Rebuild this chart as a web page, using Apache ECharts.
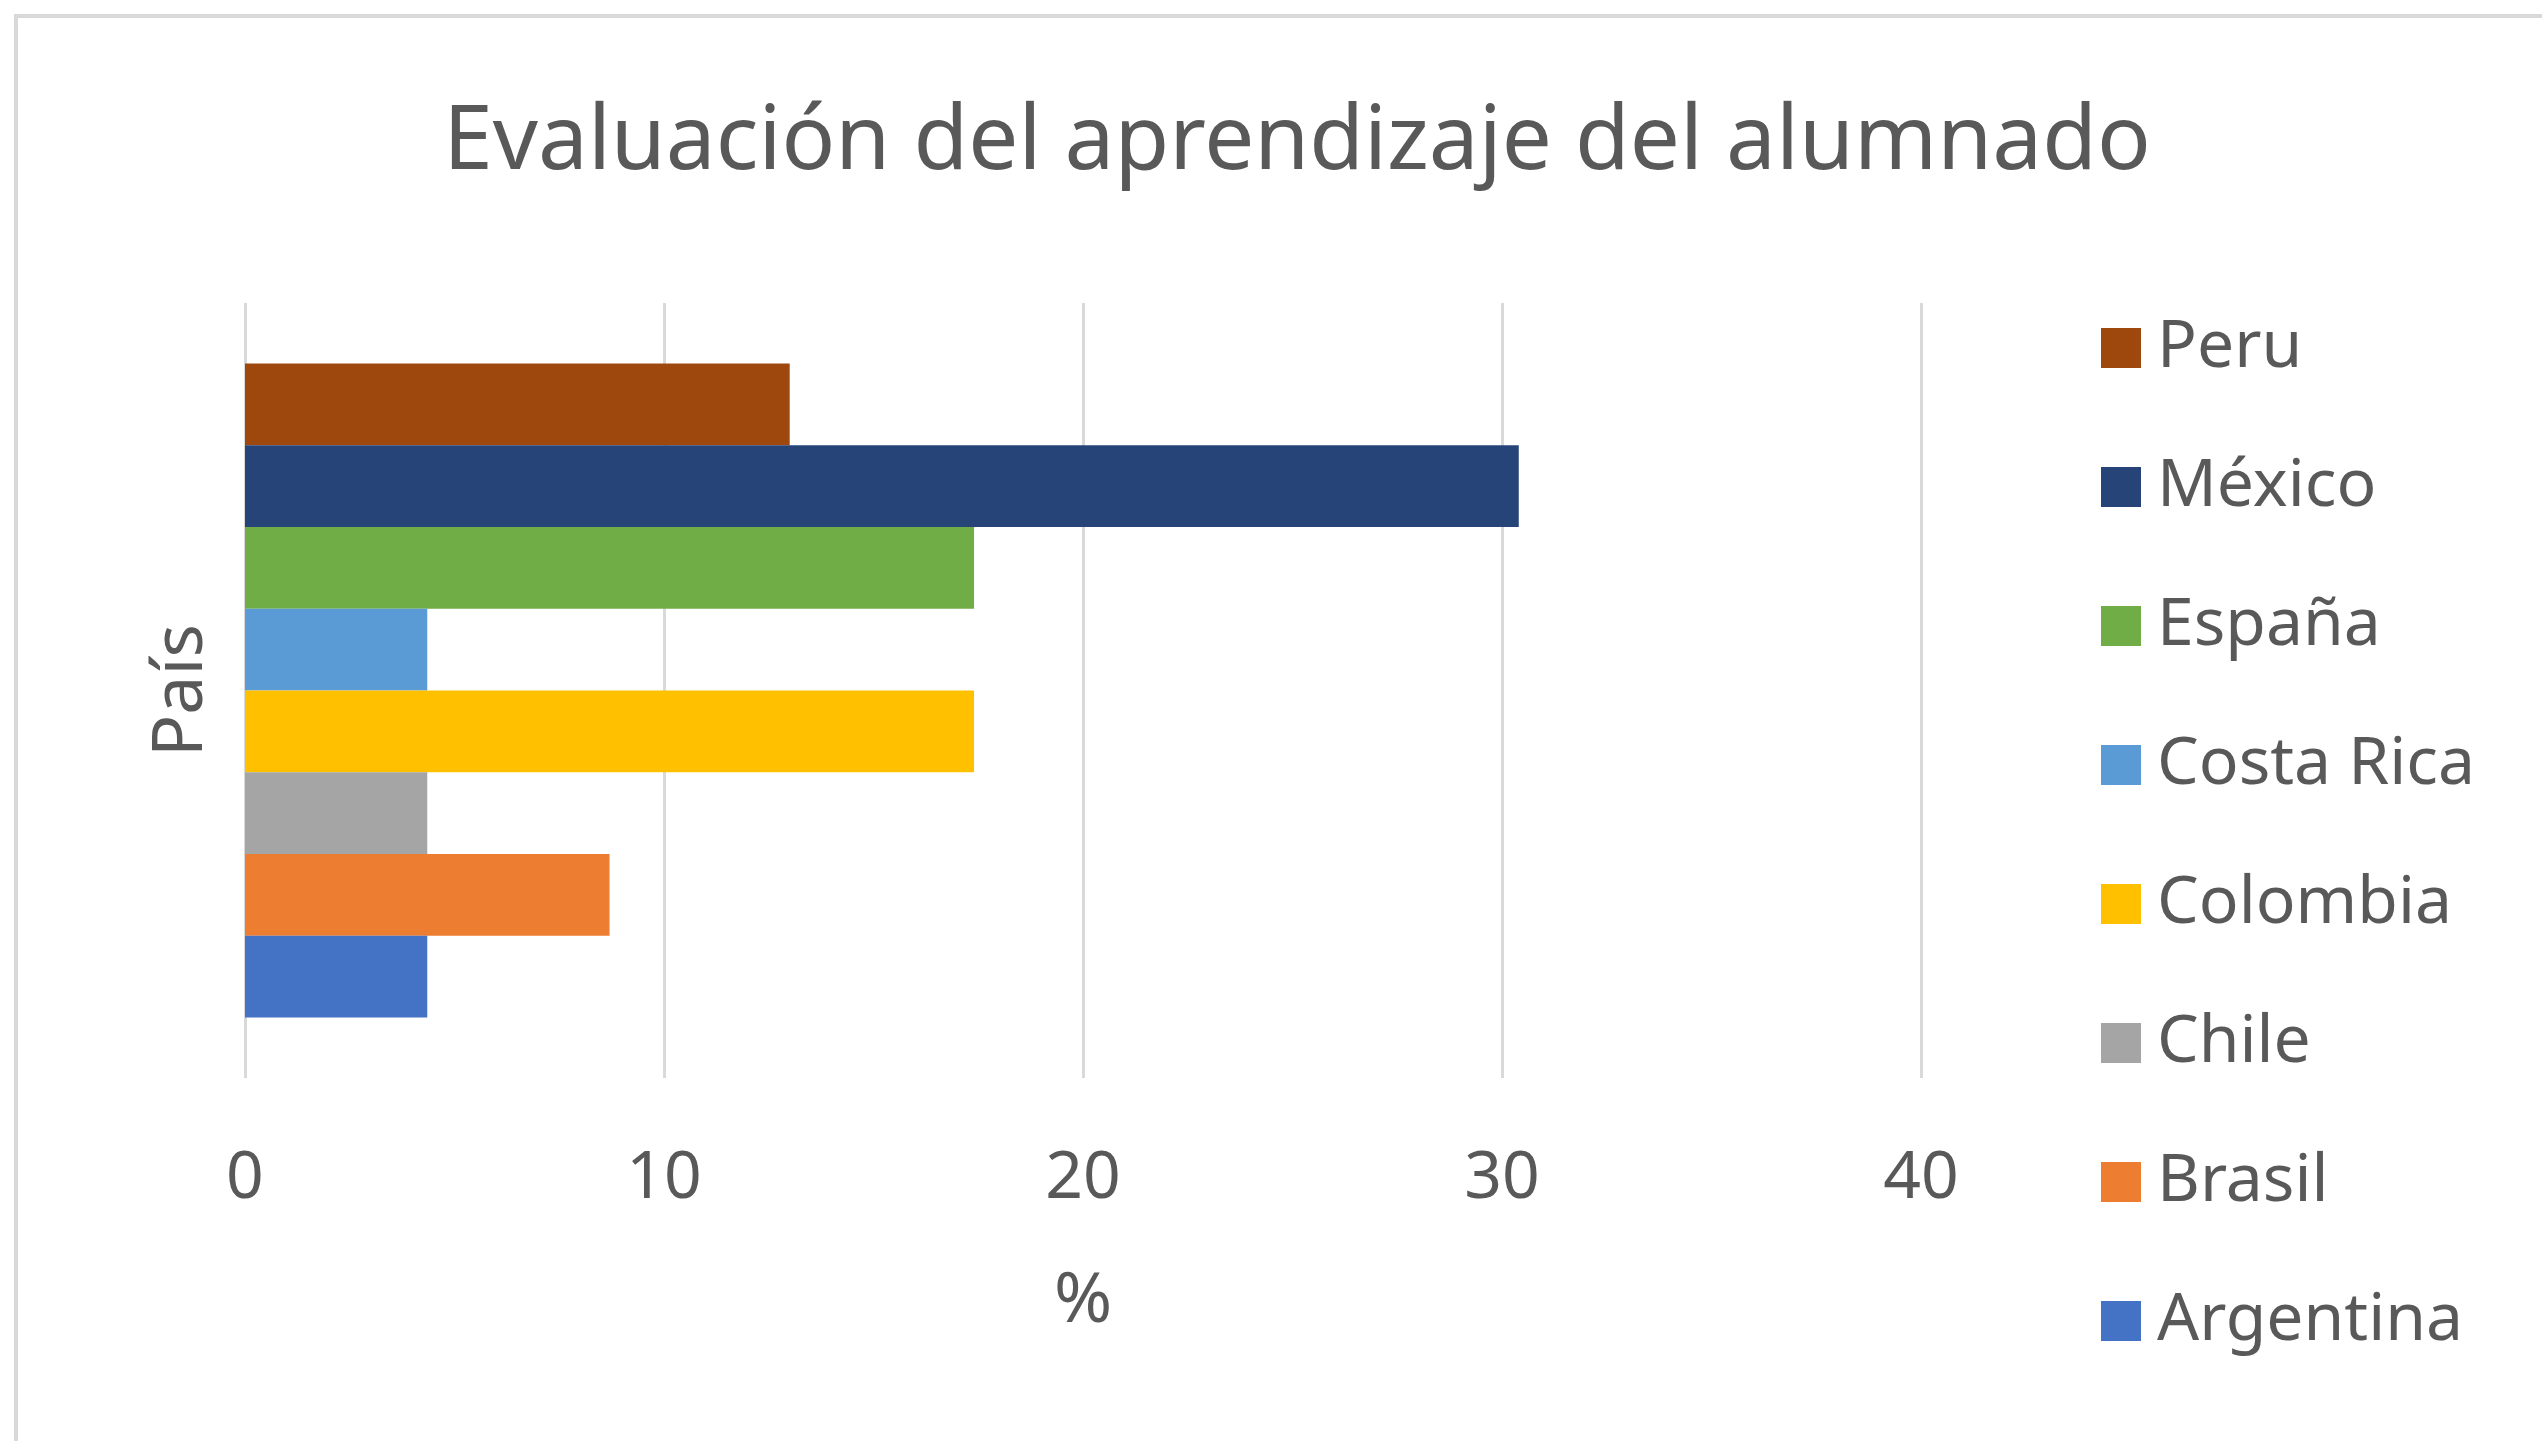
<!DOCTYPE html>
<html>
<head>
<meta charset="utf-8">
<script src="https://cdn.jsdelivr.net/npm/echarts@6/dist/echarts.min.js"></script>
<style>
html,body{margin:0;padding:0;background:#fff;}
#chart{width:2542px;height:1441px;}
</style>
</head>
<body>
<div id="chart"></div>
<script>
// Data (ECharts stacks horizontal bars from top: Peru first = top)
const categories = [''];
const seriesNames = ['Peru', 'México', 'España', 'Costa Rica', 'Colombia', 'Chile', 'Brasil', 'Argentina'];
const seriesValues = [13.0, 30.4, 17.4, 4.35, 17.4, 4.35, 8.7, 4.35];
const seriesColors = ['#9E480E', '#264478', '#70AD47', '#5B9BD5', '#FFC000', '#A5A5A5', '#ED7D31', '#4472C4'];
const legendOrder = ['Peru', 'México', 'España', 'Costa Rica', 'Colombia', 'Chile', 'Brasil', 'Argentina'];
const xTicks = [0, 10, 20, 30, 40];

const textColor = '#595959';
const fontFamily = '"Noto Sans", "Open Sans", sans-serif';

const chart = echarts.init(document.getElementById('chart'), null, {renderer: 'canvas'});
const series = seriesNames.map((n, i) => ({
  name: n,
  type: 'bar',
  data: [seriesValues[i]],
  itemStyle: {color: seriesColors[i]},
  barGap: '0%',
  barCategoryGap: '15.6%'
}));

chart.setOption({
  backgroundColor: '#fff',
  animation: false,
  textStyle: {fontFamily: fontFamily},
  title: {
    text: 'Evaluación del aprendizaje del alumnado',
    left: 1292, top: 94, textAlign: 'center',
    textStyle: {color: textColor, fontSize: 89, fontWeight: 'normal', fontFamily: fontFamily}
  },
  graphic: [{
    type: 'rect',
    shape: {x: 16, y: 16, width: 2700, height: 1600},
    style: {fill: 'none', stroke: '#d9d9d9', lineWidth: 4},
    silent: true
  }],
  legend: {
    orient: 'vertical',
    left: 2096, top: 303,
    data: legendOrder,
    icon: 'rect',
    itemWidth: 40, itemHeight: 40,
    itemGap: 59,
    textStyle: {color: textColor, fontSize: 66, lineHeight: 80, fontFamily: fontFamily, padding: [0, 0, 0, 11]}
  },
  grid: {left: 245, right: 621, top: 303, bottom: 363, containLabel: false},
  xAxis: {
    type: 'value', min: 0, max: 40, interval: 10,
    name: '%', nameLocation: 'middle', nameGap: 189,
    nameTextStyle: {color: textColor, fontSize: 70, fontFamily: fontFamily},
    axisLine: {show: false}, axisTick: {show: false},
    axisLabel: {color: textColor, fontSize: 66, margin: 68, fontFamily: fontFamily,
      formatter: v => xTicks.includes(v) ? String(v) : ''},
    splitLine: {show: true, lineStyle: {color: '#d9d9d9', width: 3}}
  },
  yAxis: {
    type: 'category', data: categories,
    name: 'País', nameLocation: 'middle', nameGap: 28, nameRotate: 90,
    nameTextStyle: {color: textColor, fontSize: 70, fontFamily: fontFamily},
    axisLine: {show: false}, axisTick: {show: false}, axisLabel: {show: false},
    splitLine: {show: false}
  },
  series: series
});
</script>
</body>
</html>
